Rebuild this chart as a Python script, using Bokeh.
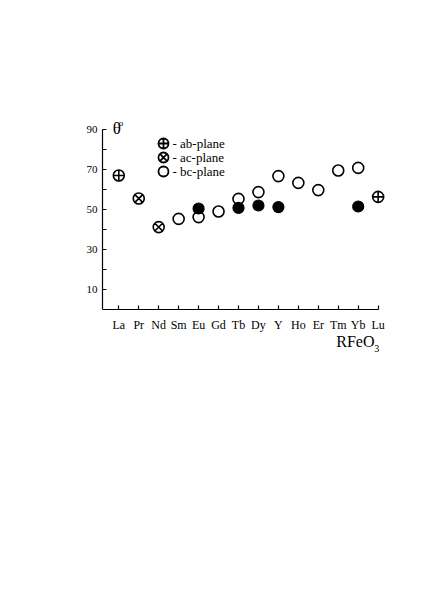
from bokeh.plotting import figure
from bokeh.models import FixedTicker, Range1d, Label
from bokeh.core.properties import value
from bokeh.embed import file_html
from bokeh.resources import INLINE

# ---- data -------------------------------------------------------------
categories = ["La", "Pr", "Nd", "Sm", "Eu", "Gd", "Tb", "Dy", "Y", "Ho", "Er", "Tm", "Yb", "Lu"]
y_major = [10, 30, 50, 70, 90]
y_minor = [20, 40, 60, 80]

ab_cats = ["La", "Lu"]
ab_vals = [67.0, 56.3]

ac_cats = ["Pr", "Nd"]
ac_vals = [55.5, 41.2]

bc_cats = ["Sm", "Eu", "Gd", "Tb", "Dy", "Y", "Ho", "Er", "Tm", "Yb"]
bc_vals = [45.3, 46.2, 49.0, 55.3, 58.7, 66.7, 63.3, 59.7, 69.5, 70.8]

filled_cats = ["Eu", "Tb", "Dy", "Y", "Yb"]
filled_vals = [50.5, 50.8, 52.0, 51.2, 51.5]

legend_labels = ["- ab-plane", "- ac-plane", "- bc-plane"]

pos = {c: i + 1 for i, c in enumerate(categories)}

FONT = "Liberation Serif"

X0, X1 = 0.183, 14.92
p = figure(width=420, height=600, output_backend="svg", toolbar_location=None,
           x_range=Range1d(X0, X1), y_range=Range1d(-22, 96),
           min_border_left=102, min_border_right=24, min_border_top=117, min_border_bottom=247)
p.outline_line_color = None
p.grid.visible = False
p.background_fill_color = "white"
p.border_fill_color = "white"

# axes
xa = p.xaxis[0]
xa.fixed_location = 0
xa.ticker = FixedTicker(ticks=list(range(1, len(categories) + 1)), minor_ticks=[])
xa.major_label_overrides = {i + 1: c for i, c in enumerate(categories)}
xa.bounds = (X0, 14.0)
xa.major_tick_in = 4
xa.major_tick_out = 0
xa.minor_tick_line_color = None
xa.major_label_standoff = 8
xa.major_label_text_font = FONT
xa.major_label_text_font_size = "12px"
xa.major_label_text_color = "black"
xa.axis_line_color = "black"
xa.axis_line_width = 1.2
xa.major_tick_line_width = 1.2

ya = p.yaxis[0]
ya.ticker = FixedTicker(ticks=y_major, minor_ticks=y_minor)
ya.bounds = (0, 90)
ya.major_tick_in = 4
ya.major_tick_out = 0
ya.minor_tick_in = 4
ya.minor_tick_out = 0
ya.major_label_standoff = 5
ya.major_label_text_font = FONT
ya.major_label_text_font_size = "11px"
ya.major_label_text_color = "black"
ya.axis_line_color = "black"
ya.axis_line_width = 1.2
ya.major_tick_line_width = 1.2
ya.minor_tick_line_width = 1.2
ya.minor_tick_line_color = "black"

# data markers
MS = 11
p.scatter([pos[c] for c in ab_cats], ab_vals, marker="circle_cross", size=MS,
          fill_color="white", line_color="black", line_width=1.6)
p.scatter([pos[c] for c in ac_cats], ac_vals, marker="circle_x", size=MS,
          fill_color="white", line_color="black", line_width=1.6)
p.scatter([pos[c] for c in bc_cats], bc_vals, marker="circle", size=MS,
          fill_color="white", line_color="black", line_width=1.6)
p.scatter([pos[c] for c in filled_cats], filled_vals, marker="circle", size=MS,
          fill_color="black", line_color="black", line_width=1.2)

# legend (manual)
lx = 3.24
ly = [83.0, 76.0, 69.0]
for m, yy in zip(["circle_cross", "circle_x", "circle"], ly):
    p.scatter([lx], [yy], marker=m, size=10, fill_color="white",
              line_color="black", line_width=1.8)
p.text([lx + 0.45] * 3, ly, text=legend_labels, text_font=value(FONT),
       text_font_size="13px", text_baseline="middle", text_align="left",
       text_color="black")

# axis titles
p.add_layout(Label(x=0.7, y=90.5, text="θ", text_font=FONT, text_font_size="17px",
                   text_baseline="middle", text_align="left", text_color="black"))
p.add_layout(Label(x=1.0, y=93.5, text="o", text_font=FONT, text_font_size="9px",
                   text_baseline="middle", text_align="left", text_color="black"))
p.add_layout(Label(x=11.9, y=-16.0, text="RFeO", text_font=FONT, text_font_size="16px",
                   text_baseline="middle", text_align="left", text_color="black"))
p.add_layout(Label(x=13.8, y=-19.3, text="3", text_font=FONT, text_font_size="10px",
                   text_baseline="middle", text_align="left", text_color="black"))

open("out.html", "w").write(file_html(p, INLINE))
